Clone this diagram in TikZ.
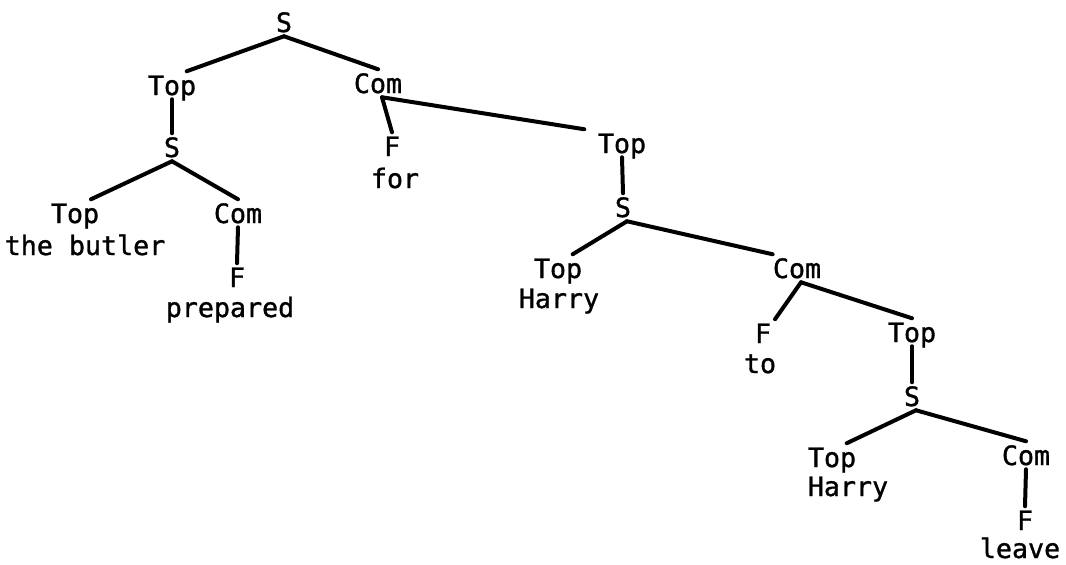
\documentclass[tikz,border=0pt]{standalone}
\usepackage{fontspec}
\newfontfamily\typewriter[FakeBold=1.2]{DejaVu Sans Mono}
\usepackage{tikz}
\tikzstyle{cat} = [font=\typewriter\fontsize{20pt}{24pt}\selectfont, inner xsep=0pt, inner ysep=3pt, text height=14.6pt, text depth=0pt, anchor=base]
\tikzstyle{word} = [cat]
\tikzstyle{branch} = [line width=3pt, line cap=round]

\begin{document}
\begin{tikzpicture}[x=0.75pt, y=-0.75pt]
	\useasboundingbox (0,0) rectangle (1066,564);
	% upper part
	\node (s0) [cat] at (284,32) {S};
	\node (top1) [cat] at (172,95) {Top};
	\node (com1) [cat] at (378,93) {Com};
	\node (s1) [cat] at (172,157) {S};
	\node (top2) [cat] at (75,223) {Top};
	\node (butler) [word] at (85,255) {the butler};
	\node (com2) [cat] at (238,223) {Com};
	\node (f2) [cat] at (237,287) {F};
	\node (prepared) [word] at (230,317) {prepared};
	\node (f1) [cat] at (392,156) {F};
	\node (for) [word] at (395,188) {for};
	% middle part
	\node (top3) [cat] at (622,153) {Top};
	\node (s3) [cat] at (623,217) {S};
	\node (top4) [cat] at (558,278) {Top};
	\node (harry1) [word] at (559,308) {Harry};
	\node (com3) [cat] at (797,278) {Com};
	\node (f3) [cat] at (763,343) {F};
	\node (to) [word] at (760,373) {to};
	% lower part
	\node (top5) [cat] at (912,342) {Top};
	\node (s5) [cat] at (912,406) {S};
	\node (top6) [cat] at (832,467) {Top};
	\node (harry2) [word] at (848,496) {Harry};
	\node (com6) [cat] at (1026,465) {Com};
	\node (f6) [cat] at (1025,530) {F};
	\node (leave) [word] at (1020,558) {leave};
	% branches
	\draw [branch] (s0.south) -- ([xshift=11pt]top1.north);
	\draw [branch] (s0.south) -- (com1.north);
	\draw [branch] (top1.south) -- (s1.north);
	\draw [branch] (s1.south) -- ([xshift=12pt]top2.north);
	\draw [branch] (s1.south) -- (com2.north);
	\draw [branch] (com2.south) -- (f2.north);
	\draw [branch] ([xshift=3pt]com1.south) -- (f1.north);
	\draw [branch] ([xshift=3pt]com1.south) -- ([xshift=-10pt]top3.north west);
	\draw [branch] (top3.south) -- (s3.north);
	\draw [branch] ([xshift=3pt]s3.south) -- ([xshift=11pt]top4.north);
	\draw [branch] ([xshift=3pt]s3.south) -- (com3.north west);
	\draw [branch] ([xshift=3pt]com3.south) -- ([xshift=9pt]f3.north);
	\draw [branch] ([xshift=3pt]com3.south) -- (top5.north);
	\draw [branch] (top5.south) -- (s5.north);
	\draw [branch] ([xshift=3pt]s5.south) -- ([xshift=11pt]top6.north);
	\draw [branch] ([xshift=3pt]s5.south) -- (com6.north);
	\draw [branch] (com6.south) -- (f6.north);
\end{tikzpicture}
\end{document}
